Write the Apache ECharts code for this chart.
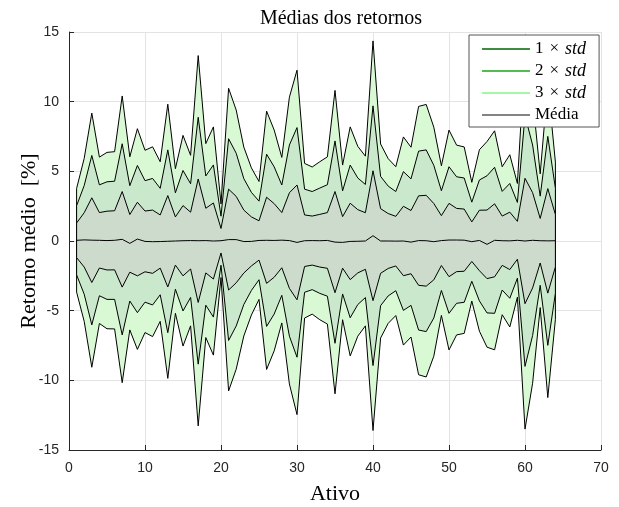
<!DOCTYPE html>
<html><head><meta charset="utf-8">
<script src="https://cdn.jsdelivr.net/npm/echarts@6/dist/echarts.min.js"></script>
<style>html,body{margin:0;padding:0;background:#fff}#c{width:619px;height:507px}</style>
</head><body><div id="c"></div>
<script>
// Asset index 1..64
const ativos = [1,2,3,4,5,6,7,8,9,10,11,12,13,14,15,16,17,18,19,20,21,22,23,24,25,26,27,28,29,30,31,32,
  33,34,35,36,37,38,39,40,41,42,43,44,45,46,47,48,49,50,51,52,53,54,55,56,57,58,59,60,61,62,63,64];
// Mean return [%]
const media = [0.05,0.08,0.06,0.05,0.03,0.05,0.12,-0.17,0.14,-0.03,-0.05,-0.04,-0.02,0.0,0.02,0.03,
  0.02,0.03,0.0,0.02,0.1,0.1,-0.04,-0.03,0.04,0.05,0.04,0.06,0.03,-0.1,0.02,0.03,
  0.02,0.04,-0.08,-0.1,-0.03,-0.02,0.0,0.38,0.0,0.0,-0.01,0.0,-0.08,0.03,0.02,-0.05,
  0.03,0.07,0.07,0.06,-0.05,0.04,-0.24,0.05,0.02,0.01,0.05,0.0,0.05,0.02,0.01,0.02];
// Standard deviation [%]
const desvio = [1.24,1.95,3.04,1.99,2.11,2.12,3.43,2.07,2.64,2.18,2.27,1.91,3.28,1.73,2.52,2.04,
  4.43,2.32,2.73,0.88,3.62,3.1,2.26,1.76,1.41,3.09,2.64,1.98,3.43,4.12,1.85,1.76,
  1.89,2.0,3.63,1.85,2.74,2.27,2.03,4.66,2.32,1.97,1.78,2.49,2.27,3.21,3.26,2.74,
  1.79,2.63,2.27,2.23,1.42,2.17,2.46,2.62,1.77,2.06,1.36,4.5,3.42,1.6,3.75,1.88];
const multiplos = [3, 2, 1];
const nomesLegenda = ['1 × std', '2 × std', '3 × std', 'Média'];

const fillCores = { 3: '#d9f9d5', 2: '#c9e8cc', 1: '#cddbcd' };
const legendCores = { '1 × std': '#006400', '2 × std': '#19a519', '3 × std': '#86f486', 'Média': '#5a5a5a' };

function bandSeries(k) {
  return {
    type: 'custom',
    name: 'band' + k,
    data: [[0, 0]],
    silent: true,
    z: 2,
    renderItem: function (params, api) {
      const up = [], lo = [];
      for (let i = 0; i < ativos.length; i++) {
        up.push(api.coord([ativos[i], media[i] + k * desvio[i]]));
        lo.push(api.coord([ativos[i], media[i] - k * desvio[i]]));
      }
      const pts = up.concat(lo.reverse());
      return {
        type: 'polygon',
        shape: { points: pts },
        style: { fill: fillCores[k], stroke: '#000', lineWidth: 1 }
      };
    }
  };
}

const series = multiplos.map(bandSeries);
series.push({
  type: 'line', name: 'Média',
  data: ativos.map((x, i) => [x, media[i]]),
  showSymbol: false, symbol: 'none', z: 5,
  lineStyle: { color: '#000', width: 1 },
  itemStyle: { color: legendCores['Média'] }
});
['1 × std', '2 × std', '3 × std'].forEach(n => {
  series.push({ type: 'line', name: n, data: [], itemStyle: { color: legendCores[n] }, lineStyle: { color: legendCores[n] } });
});

const serif = 'Liberation Serif';
const chart = echarts.init(document.getElementById('c'), null, { renderer: 'canvas' });
chart.setOption({
  animation: false,
  backgroundColor: '#fff',
  title: {
    text: 'Médias dos retornos', left: 336, top: 4, textAlign: 'center',
    textStyle: { fontFamily: serif, fontSize: 20, fontWeight: 'normal', color: '#000' }
  },
  grid: { left: 69, right: 18, top: 32, bottom: 57, containLabel: false, outerBoundsMode: 'none' },
  legend: {
    data: nomesLegenda.map(n => ({ name: n, icon: 'rect', itemStyle: { color: legendCores[n] } })),
    orient: 'vertical', left: 469, top: 35,
    itemWidth: 48, itemHeight: 1.6, itemGap: 4, itemTextGap: 6,
    padding: [5, 11, 3, 13],
    backgroundColor: '#fff', borderColor: '#555', borderWidth: 1, borderRadius: 0,
    selectedMode: false,
    formatter: function (name) {
      if (name === 'Média') return '{a|Média}';
      return '{a|' + name.charAt(0) + '}{x|×}{b|std}';
    },
    textStyle: {
      color: '#000', fontFamily: serif, fontSize: 17, lineHeight: 18,
      rich: {
        a: { fontFamily: serif, fontSize: 17, color: '#000', lineHeight: 18 },
        x: { fontFamily: serif, fontSize: 17, color: '#000', lineHeight: 18, padding: [0, 6, 0, 6] },
        b: { fontFamily: serif, fontSize: 18, fontStyle: 'italic', color: '#000', lineHeight: 18, padding: [0, 2, 0, 0] }
      }
    }
  },
  xAxis: {
    type: 'value', min: 0, max: 70, interval: 10,
    name: 'Ativo', nameLocation: 'middle', nameGap: 33, nameMoveOverlap: false,
    nameTextStyle: { fontFamily: serif, fontSize: 22, color: '#000' },
    axisLine: { show: true, onZero: false, lineStyle: { color: '#262626', width: 1 } },
    axisTick: { show: true, inside: true, length: 5, lineStyle: { color: '#262626' } },
    axisLabel: { margin: 11, fontFamily: 'Liberation Sans', fontSize: 14, color: '#262626' },
    splitLine: { show: true, lineStyle: { color: '#e3e3e3', width: 1 } }
  },
  yAxis: {
    type: 'value', min: -15, max: 15, interval: 5,
    name: 'Retorno médio  [%]', nameLocation: 'middle', nameGap: 29, nameMoveOverlap: false,
    nameTextStyle: { fontFamily: serif, fontSize: 22, color: '#000' },
    axisLine: { show: true, onZero: false, lineStyle: { color: '#262626', width: 1 } },
    axisTick: { show: true, inside: true, length: 5, lineStyle: { color: '#262626' } },
    axisLabel: { margin: 10, fontFamily: 'Liberation Sans', fontSize: 14, color: '#262626' },
    splitLine: { show: true, lineStyle: { color: '#e3e3e3', width: 1 } }
  },
  series: series
});
</script></body></html>
